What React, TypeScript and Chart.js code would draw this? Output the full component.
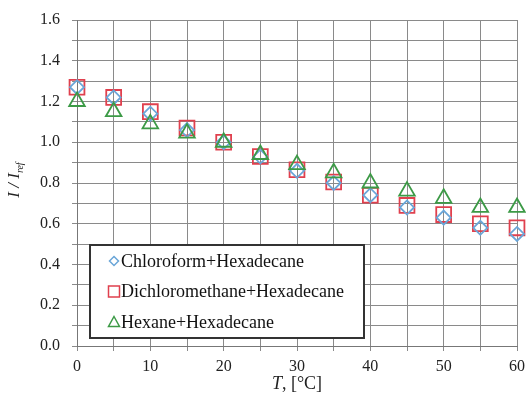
import React, { useEffect, useRef } from "react";
import { Chart, registerables } from "chart.js";

Chart.register(...registerables);

const temperatures = [0, 5, 10, 15, 20, 25, 30, 35, 40, 45, 50, 55, 60];
const chloroform = [1.27, 1.22, 1.14, 1.06, 1.0, 0.93, 0.86, 0.8, 0.74, 0.68, 0.63, 0.58, 0.55];
const dichloromethane = [1.27, 1.22, 1.15, 1.07, 1.0, 0.93, 0.865, 0.805, 0.74, 0.69, 0.645, 0.6, 0.58];
const hexane = [1.2, 1.15, 1.09, 1.045, 1.0, 0.94, 0.89, 0.85, 0.8, 0.76, 0.725, 0.68, 0.68];
const seriesNames = ["Chloroform+Hexadecane", "Dichloromethane+Hexadecane", "Hexane+Hexadecane"];
const seriesColors = ["#6aa6d8", "#e0404e", "#3c9a46"];
const seriesShapes = ["rectRot", "rect", "triangle"];

const SERIF = '"Liberation Serif", "DejaVu Serif", serif';

function drawMarker(ctx: CanvasRenderingContext2D, shape: string, x: number, y: number, r: number) {
  ctx.beginPath();
  if (shape === "rectRot") {
    ctx.moveTo(x, y - r);
    ctx.lineTo(x + r, y);
    ctx.lineTo(x, y + r);
    ctx.lineTo(x - r, y);
    ctx.closePath();
  } else if (shape === "rect") {
    ctx.rect(x - r, y - r, 2 * r, 2 * r);
  } else {
    ctx.moveTo(x, y - r);
    ctx.lineTo(x + r, y + r * 0.8);
    ctx.lineTo(x - r, y + r * 0.8);
    ctx.closePath();
  }
  ctx.stroke();
}

const decorPlugin = {
  id: "decor",
  afterDraw(chart: any) {
    const ctx: CanvasRenderingContext2D = chart.ctx;
    const { left, right, top, bottom } = chart.chartArea;
    ctx.save();
    // Legend box
    const bx = 90, by = 245, bw = 274, bh = 93;
    ctx.fillStyle = "#ffffff";
    ctx.fillRect(bx, by, bw, bh);
    ctx.strokeStyle = "#333333";
    ctx.lineWidth = 2;
    ctx.strokeRect(bx, by, bw, bh);
    ctx.font = "18px " + SERIF;
    ctx.textBaseline = "middle";
    ctx.textAlign = "left";
    seriesNames.forEach((name, i) => {
      const y = by + 16 + i * 30.5;
      ctx.strokeStyle = seriesColors[i];
      ctx.lineWidth = 1.5;
      drawMarker(ctx, seriesShapes[i], 114, y, i === 0 ? 4.5 : 5.5);
      ctx.fillStyle = "#111111";
      ctx.fillText(name, 121, y + 1);
    });
    // X axis title: "T, [°C]"
    ctx.fillStyle = "#222222";
    ctx.textBaseline = "middle";
    const cx = (left + right) / 2;
    ctx.font = "italic 18px " + SERIF;
    const tW = ctx.measureText("T").width;
    ctx.font = "18px " + SERIF;
    const restW = ctx.measureText(", [°C]").width;
    const sx = cx - (tW + restW) / 2;
    ctx.font = "italic 18px " + SERIF;
    ctx.fillText("T", sx, 384);
    ctx.font = "18px " + SERIF;
    ctx.fillText(", [°C]", sx + tW, 384);
    // Y axis title: "I / I_ref" rotated
    ctx.translate(15, (top + bottom) / 2 - 3);
    ctx.rotate(-Math.PI / 2);
    ctx.font = "italic 17px " + SERIF;
    const main = "I / I";
    const mW = ctx.measureText(main).width;
    ctx.font = "italic 10px " + SERIF;
    const subW = ctx.measureText("ref").width;
    const startX = -(mW + subW) / 2;
    ctx.font = "italic 17px " + SERIF;
    ctx.fillText(main, startX, 0);
    ctx.font = "italic 10px " + SERIF;
    ctx.fillText("ref", startX + mW, 5);
    ctx.restore();
  },
};

export default function App() {
  const canvasRef = useRef<HTMLCanvasElement | null>(null);

  useEffect(() => {
    if (!canvasRef.current) return;
    const mk = (i: number, data: number[], radius: number) => ({
      label: seriesNames[i],
      data: temperatures.map((t, k) => ({ x: t, y: data[k] })),
      showLine: false,
      clip: false,
      pointStyle: seriesShapes[i],
      pointRadius: radius,
      pointHoverRadius: radius,
      pointBorderWidth: 1.8,
      pointBackgroundColor: "rgba(0,0,0,0)",
      borderColor: seriesColors[i],
      backgroundColor: "rgba(0,0,0,0)",
    });
    const chart = new Chart(canvasRef.current, {
      type: "scatter",
      data: {
        datasets: [
          mk(2, hexane, 9),
          mk(0, chloroform, 7),
          mk(1, dichloromethane, 10.5),
        ],
      },
      options: {
        animation: false,
        responsive: false,
        layout: { autoPadding: false, padding: { left: 0, right: 9, top: 20, bottom: 0 } },
        plugins: { legend: { display: false }, tooltip: { enabled: false } },
        scales: {
          x: {
            type: "linear",
            min: 0,
            max: 60,
            afterFit: (s: any) => { s.height = 52; s.paddingRight = 0; s.paddingLeft = 0; },
            ticks: {
              stepSize: 5,
              padding: 6,
              maxRotation: 0,
              autoSkip: false,
              color: "#222222",
              font: { family: SERIF, size: 16 },
              callback: (v: any) => (Number(v) % 10 === 0 ? String(v) : ""),
            },
            grid: { color: "#8a8a8a", lineWidth: 1, tickLength: 5, tickColor: "#8a8a8a" },
            border: { display: true, color: "#777777", width: 1 },
          },
          y: {
            min: 0,
            max: 1.6,
            afterFit: (s: any) => { s.width = 77; s.paddingTop = 0; s.paddingBottom = 0; },
            ticks: {
              stepSize: 0.1,
              padding: 12,
              autoSkip: false,
              color: "#222222",
              font: { family: SERIF, size: 16 },
              callback: (v: any, i: number) => (i % 2 === 0 ? Number(v).toFixed(1) : ""),
            },
            grid: { color: "#8a8a8a", lineWidth: 1, tickLength: 5, tickColor: "#8a8a8a" },
            border: { display: true, color: "#777777", width: 1 },
          },
        },
      },
      plugins: [decorPlugin],
    } as any);
    return () => chart.destroy();
  }, []);

  return (
    <div style={{ position: "fixed", left: 0, top: 0, width: 526, height: 398, background: "#ffffff" }}>
      <canvas ref={canvasRef} width={526} height={398} />
    </div>
  );
}
